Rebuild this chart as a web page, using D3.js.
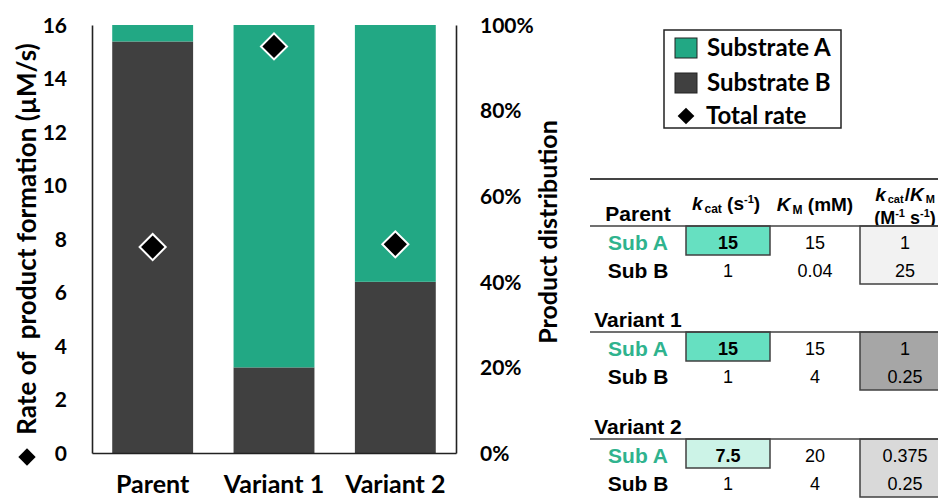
<!DOCTYPE html>
<html>
<head>
<meta charset="utf-8">
<script src="https://cdn.jsdelivr.net/npm/d3@7"></script>
<style>
  html, body { margin: 0; padding: 0; background: #fff; }
  svg { display: block; }
  .chart text { font-family: Lato, "Open Sans", sans-serif; font-weight: 700; fill: #000; }
  .tbl text { font-family: "Liberation Sans", Arial, sans-serif; fill: #000; }
</style>
</head>
<body>
<svg id="fig" width="938" height="498"></svg>
<script>
// Product formation per enzyme
const categories = ["Parent", "Variant 1", "Variant 2"];
const shareA = [3.85, 80, 60];      // % of product from substrate A
const shareB = [96.15, 20, 40];     // % of product from substrate B
const totalRate = [7.7, 15.2, 7.8]; // µM/s
const rateTicks = [0, 2, 4, 6, 8, 10, 12, 14, 16];
const pctTicks = [0, 20, 40, 60, 80, 100];

// Kinetic parameter table
const sections = ["Parent", "Variant 1", "Variant 2"];
const substrates = ["Sub A", "Sub B"];
const kcat = [[15, 1], [15, 1], [7.5, 1]];
const km = [[15, 0.04], [15, 4], [20, 4]];
const kcatKm = [[1, 25], [1, 0.25], [0.375, 0.25]];
const kcatFill = ["#66e0c1", "#66e0c1", "#ccf3e7"];
const ratioFill = ["#f2f2f2", "#a6a6a6", "#d9d9d9"];

const colorA = "#22a884";
const colorB = "#404040";

const svg = d3.select("#fig");
const chart = svg.append("g").attr("class", "chart");

const x0 = 92, x1 = 456, yTop = 25, yBot = 453;
const x = d3.scaleBand().domain(categories).range([x0, x1]).paddingInner(1/3).paddingOuter(1/6);
const yRate = d3.scaleLinear().domain([0, 16]).range([yBot, yTop]);
const yPct = d3.scaleLinear().domain([0, 100]).range([yBot, yTop]);

// stacked 100% bars
const rows = categories.map((c, i) => ({ cat: c, A: shareA[i], B: shareB[i] }));
const stack = d3.stack().keys(["B", "A"])(rows);
const fills = { A: colorA, B: colorB };
chart.append("g").selectAll("g").data(stack).join("g")
  .attr("fill", d => fills[d.key])
  .selectAll("rect").data(d => d).join("rect")
  .attr("x", d => x(d.data.cat))
  .attr("width", x.bandwidth())
  .attr("y", d => yPct(d[1]))
  .attr("height", d => yPct(d[0]) - yPct(d[1]));

// axes
const axL = chart.append("g").attr("transform", `translate(${x0},0)`)
  .call(d3.axisLeft(yRate).tickValues(rateTicks).tickSize(0).tickSizeOuter(0).tickPadding(25));
const axR = chart.append("g").attr("transform", `translate(${x1},0)`)
  .call(d3.axisRight(yPct).tickValues(pctTicks).tickSize(0).tickSizeOuter(0).tickPadding(24).tickFormat(d => d + "%"));
const axB = chart.append("g").attr("transform", `translate(0,${yBot})`)
  .call(d3.axisBottom(x).tickSize(0).tickSizeOuter(0).tickPadding(22));
[axL, axR, axB].forEach(a => {
  a.select(".domain").attr("stroke", "#222").attr("stroke-width", 1.6);
  a.selectAll("text").attr("font-family", null).attr("fill", "#000");
});
axL.selectAll("text").style("font-size", "21px").attr("dy", "0.35em");
axR.selectAll("text").style("font-size", "21px").attr("dy", "0.35em");
axB.selectAll("text").style("font-size", "25px").attr("dy", "0.72em");

// total rate diamonds
const diamond = size => d3.symbol(d3.symbolSquare, size)();
chart.append("g").selectAll("path").data(totalRate).join("path")
  .attr("d", diamond(340))
  .attr("transform", (d, i) => `translate(${x(categories[i]) + x.bandwidth() / 2},${yRate(d)}) rotate(45)`)
  .attr("fill", "#000").attr("stroke", "#fff").attr("stroke-width", 2);

// axis titles
chart.append("text")
  .attr("transform", "translate(36,239) rotate(-90)")
  .attr("text-anchor", "middle").style("font-size", "26px").style("white-space", "pre")
  .text("Rate of  product formation (µM/s)");
chart.append("path").attr("d", diamond(150))
  .attr("transform", "translate(27,457) rotate(45)").attr("fill", "#000");
chart.append("text")
  .attr("transform", "translate(557,232) rotate(-90)")
  .attr("text-anchor", "middle").style("font-size", "25px")
  .text("Product distribution");

// legend
const lg = chart.append("g");
lg.append("rect").attr("x", 664).attr("y", 30).attr("width", 177).attr("height", 98)
  .attr("fill", "#fff").attr("stroke", "#222").attr("stroke-width", 1.5);
const legendItems = [
  { label: "Substrate A", color: colorA, y: 48 },
  { label: "Substrate B", color: colorB, y: 83 }
];
legendItems.forEach(it => {
  lg.append("rect").attr("x", 675).attr("y", it.y - 10).attr("width", 22).attr("height", 20)
    .attr("fill", it.color).attr("stroke", "#222").attr("stroke-width", 1);
  lg.append("text").attr("x", 707).attr("y", it.y).attr("dy", "0.35em")
    .style("font-size", "24px").text(it.label);
});
lg.append("path").attr("d", diamond(140)).attr("transform", "translate(686,116) rotate(45)").attr("fill", "#000");
lg.append("text").attr("x", 706).attr("y", 116).attr("dy", "0.35em").style("font-size", "24px").text("Total rate");

// kinetic table
const tb = svg.append("g").attr("class", "tbl");
const tx0 = 590, tx1 = 938, labelX = 638, colK = 728, colM = 815, colR = 905;
const cellK = [686, 770], cellR = [860, 945];
const lineY = [226, 332, 439];

tb.append("line").attr("x1", tx0).attr("x2", tx1).attr("y1", 179).attr("y2", 179)
  .attr("stroke", "#444").attr("stroke-width", 2);

// header
const h1 = tb.append("text").attr("x", colK - 2).attr("y", 210).attr("text-anchor", "middle")
  .style("font-size", "19px").style("font-weight", 700);
h1.append("tspan").style("font-style", "italic").text("k");
h1.append("tspan").style("font-size", "12px").attr("dx", 2).attr("dy", 3).text("cat");
h1.append("tspan").attr("dy", -3).text(" (s");
h1.append("tspan").style("font-size", "11px").attr("dy", -7).text("-1");
h1.append("tspan").attr("dy", 7).text(")");

const h2 = tb.append("text").attr("x", colM).attr("y", 211).attr("text-anchor", "middle")
  .style("font-size", "19px").style("font-weight", 700);
h2.append("tspan").style("font-style", "italic").text("K");
h2.append("tspan").style("font-size", "12px").attr("dx", 2).attr("dy", 3).text("M");
h2.append("tspan").attr("dy", -3).text(" (mM)");

const h3 = tb.append("text").attr("x", colR).attr("y", 201).attr("text-anchor", "middle")
  .style("font-size", "19px").style("font-weight", 700);
h3.append("tspan").style("font-style", "italic").text("k");
h3.append("tspan").style("font-size", "11px").attr("dx", 2).attr("dy", 2).text("cat");
h3.append("tspan").attr("dx", 1).attr("dy", -2).text("/");
h3.append("tspan").style("font-style", "italic").text("K");
h3.append("tspan").style("font-size", "11px").attr("dx", 2).attr("dy", 2).text("M");
const h4 = tb.append("text").attr("x", colR).attr("y", 224).attr("text-anchor", "middle")
  .style("font-size", "18px").style("font-weight", 700);
h4.append("tspan").text("(M");
h4.append("tspan").style("font-size", "11px").attr("dy", -7).text("-1");
h4.append("tspan").attr("dy", 7).text(" s");
h4.append("tspan").style("font-size", "11px").attr("dy", -7).text("-1");
h4.append("tspan").attr("dy", 7).text(")");

const fmt = v => String(v);
sections.forEach((s, si) => {
  const ly = lineY[si];
  // highlighted cells
  tb.append("rect").attr("x", cellK[0]).attr("y", ly).attr("width", cellK[1] - cellK[0]).attr("height", 29)
    .attr("fill", kcatFill[si]).attr("stroke", "#404040").attr("stroke-width", 1.5);
  tb.append("rect").attr("x", cellR[0]).attr("y", ly).attr("width", cellR[1] - cellR[0]).attr("height", 58)
    .attr("fill", ratioFill[si]).attr("stroke", "#404040").attr("stroke-width", 1.5);
  tb.append("line").attr("x1", tx0).attr("x2", tx1).attr("y1", ly).attr("y2", ly)
    .attr("stroke", "#404040").attr("stroke-width", 1.5);
  tb.append("text").attr("x", labelX).attr("y", ly - 5).attr("text-anchor", "middle")
    .style("font-size", "21px").style("font-weight", 700).text(s);
  substrates.forEach((sub, ri) => {
    const by = ly + 24 + ri * 28;
    tb.append("text").attr("x", labelX).attr("y", by).attr("text-anchor", "middle")
      .style("font-size", "21px").style("font-weight", 700)
      .style("fill", ri === 0 ? "#2fb38e" : "#000").text(sub);
    tb.append("text").attr("x", colK).attr("y", by - 1).attr("text-anchor", "middle")
      .style("font-size", "18px").style("font-weight", ri === 0 ? 700 : 400).text(fmt(kcat[si][ri]));
    tb.append("text").attr("x", colM).attr("y", by - 1).attr("text-anchor", "middle")
      .style("font-size", "18px").text(fmt(km[si][ri]));
    tb.append("text").attr("x", colR).attr("y", by - 1).attr("text-anchor", "middle")
      .style("font-size", "18px").text(fmt(kcatKm[si][ri]));
  });
});
</script>
</body>
</html>
